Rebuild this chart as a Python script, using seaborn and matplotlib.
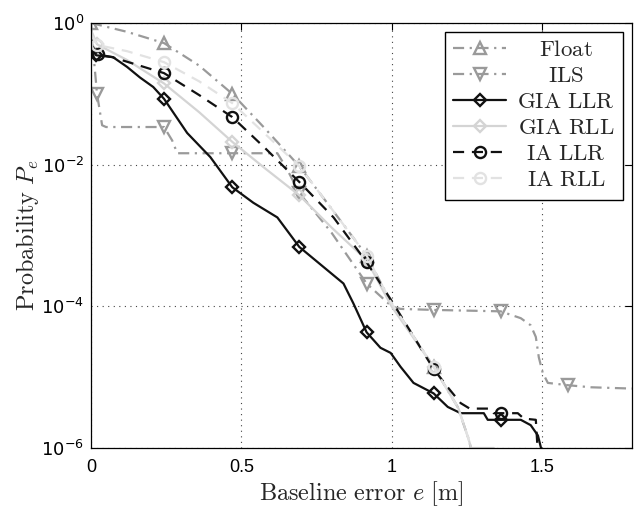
import numpy as np
import matplotlib
matplotlib.use("Agg")
import matplotlib.pyplot as plt
from matplotlib.ticker import NullLocator
import seaborn as sns

# ---------------- data ----------------
float_x = [0.0, 0.12, 0.243, 0.36, 0.47, 0.58, 0.693, 0.80, 0.917, 1.0, 1.14, 1.22, 1.255, 1.27]
float_y = [1.0, 0.75, 0.52, 0.25, 0.10, 0.032, 0.0095, 0.0024, 5.2e-4, 1.1e-4, 1.4e-5, 3.8e-6, 1.4e-6, 8e-7]
float_mk = [0.0, 0.243, 0.47, 0.693, 0.917, 1.14]

ils_x = [0.0, 0.01, 0.02, 0.037, 0.05, 0.243, 0.27, 0.287, 0.47, 0.62, 0.65, 0.693, 0.80, 0.917,
         1.0, 1.03, 1.14, 1.363, 1.43, 1.463, 1.48, 1.49, 1.503, 1.52, 1.587, 1.663, 1.8]
ils_y = [1.0, 0.3, 0.1, 0.036, 0.034, 0.034, 0.022, 0.0145, 0.0145, 0.0145, 0.009, 0.004, 0.0011, 2.1e-4,
         1.0e-4, 9.2e-5, 8.9e-5, 8.5e-5, 6.8e-5, 5.4e-5, 3.7e-5, 1.9e-5, 1.15e-5, 8.3e-6, 7.7e-6, 7.2e-6, 6.9e-6]
ils_mk = [0.02, 0.243, 0.47, 0.693, 0.917, 1.14, 1.363, 1.587]

gllr_x = [0.0, 0.008, 0.017, 0.073, 0.12, 0.163, 0.207, 0.243, 0.32, 0.397, 0.47, 0.54, 0.62, 0.693,
          0.84, 0.873, 0.917, 0.963, 0.997, 1.03, 1.073, 1.14, 1.187, 1.23, 1.307, 1.32, 1.363,
          1.43, 1.463, 1.487, 1.50]
gllr_y = [0.6, 0.4, 0.35, 0.33, 0.24, 0.17, 0.125, 0.085, 0.028, 0.0128, 0.0048, 0.0029, 0.0018, 6.9e-4,
          2.1e-4, 1.1e-4, 4.3e-5, 2.6e-5, 2.2e-5, 1.4e-5, 8.3e-6, 5.9e-6, 3.8e-6, 3.1e-6, 3.1e-6, 2.5e-6, 2.5e-6,
          2.5e-6, 2.1e-6, 1.5e-6, 9e-7]
gllr_mk = [0.017, 0.243, 0.47, 0.693, 0.917, 1.14, 1.363]

grll_x = [0.0, 0.02, 0.12, 0.243, 0.36, 0.47, 0.58, 0.693, 0.80, 0.917, 1.0, 1.14, 1.223, 1.257, 1.265, 1.34]
grll_y = [0.8, 0.5, 0.3, 0.14, 0.055, 0.021, 0.0088, 0.0037, 0.0013, 4.5e-4, 1.0e-4, 1.4e-5, 3.6e-6, 1.3e-6, 1.0e-6, 1.0e-6]
grll_mk = [0.02, 0.243, 0.47, 0.693, 0.917, 1.14]

illr_x = [0.0, 0.023, 0.07, 0.243, 0.36, 0.47, 0.58, 0.693, 0.807, 0.917, 1.0, 1.14, 1.187, 1.23,
          1.26, 1.33, 1.34, 1.363, 1.42, 1.44, 1.48, 1.49]
illr_y = [0.5, 0.36, 0.33, 0.196, 0.096, 0.047, 0.017, 0.0057, 0.0018, 4.2e-4, 1.2e-4, 1.3e-5, 7.2e-6, 4.3e-6,
          3.6e-6, 3.6e-6, 3.1e-6, 3.1e-6, 3.1e-6, 2.6e-6, 2.5e-6, 5e-7]
illr_mk = [0.023, 0.243, 0.47, 0.693, 0.917, 1.14, 1.363]

irll_x = [0.0, 0.02, 0.12, 0.243, 0.36, 0.47, 0.58, 0.693, 0.80, 0.917, 1.0, 1.14, 1.22, 1.255, 1.27]
irll_y = [0.7, 0.49, 0.4, 0.28, 0.15, 0.074, 0.027, 0.0095, 0.0024, 5.2e-4, 1.1e-4, 1.4e-5, 3.8e-6, 1.4e-6, 8e-7]
irll_mk = [0.02, 0.243, 0.47, 0.693, 0.917, 1.14]

labels = ["Float", "ILS", "GIA LLR", "GIA RLL", "IA LLR", "IA RLL"]
x_ticks = [0, 0.5, 1, 1.5]
x_tick_labels = ["0", "0.5", "1", "1.5"]
y_ticks = [1e0, 1e-2, 1e-4, 1e-6]
y_tick_labels = [r"$10^{0}$", r"$10^{-2}$", r"$10^{-4}$", r"$10^{-6}$"]

# ---------------- style ----------------
sns.set_theme(style="white")
plt.rcParams["font.family"] = ["Liberation Serif", "DejaVu Sans"]
plt.rcParams["mathtext.fontset"] = "cm"

fig = plt.figure(figsize=(6.35, 5.07), dpi=100)
ax = fig.add_axes([91 / 635, 59 / 507, 541 / 635, 425 / 507])
ax.set_yscale("log")

dashdot = (0, (5, 2.5, 1, 2.5))
dashed = (0, (5, 3.5))
series = [
    (float_x, float_y, float_mk, "#9a9a9a", dashdot, "^", 8.5),
    (ils_x, ils_y, ils_mk, "#9a9a9a", dashdot, "v", 8.5),
    (gllr_x, gllr_y, gllr_mk, "#111111", "-", "D", 6.5),
    (grll_x, grll_y, grll_mk, "#d4d4d4", "-", "D", 6.5),
    (illr_x, illr_y, illr_mk, "#111111", dashed, "o", 8),
    (irll_x, irll_y, irll_mk, "#e2e2e2", dashed, "o", 8),
]

for (xs, ys, mk, col, ls, m, ms), lab in zip(series, labels):
    idx = [int(np.argmin(np.abs(np.array(xs) - v))) for v in mk]
    sns.lineplot(x=xs, y=ys, ax=ax, sort=False, estimator=None, color=col,
                 linewidth=1.6, label=r"$\mathrm{" + lab.replace(" ", r"\ ") + "}$",
                 marker=m, markevery=idx, markersize=ms, markerfacecolor="none",
                 markeredgecolor=col, markeredgewidth=1.7)
    ln = ax.lines[-1]
    ln.set_linestyle(ls)
    ln.set_markerfacecolor("none")
    ln.set_markeredgecolor(col)

ax.set_xlim(0, 1.8)
ax.set_ylim(1e-6, 1)
ax.set_xticks(x_ticks)
ax.set_xticklabels(x_tick_labels, fontfamily="Liberation Sans", fontsize=13)
ax.set_yticks(y_ticks)
ax.set_yticklabels(y_tick_labels, fontsize=13)
for t in ax.get_yticklabels():
    t.set_math_fontfamily("dejavusans")
ax.yaxis.set_minor_locator(NullLocator())
ax.xaxis.set_minor_locator(NullLocator())

ax.tick_params(direction="in", length=5, width=0.8, top=True, right=True, colors="black")
ax.tick_params(axis="x", pad=8)
ax.tick_params(axis="y", pad=5)
for s in ax.spines.values():
    s.set_color("black")
    s.set_linewidth(0.9)
    s.set_visible(True)

ax.grid(True, which="major", linestyle=(0, (1, 4)), color="#444444", linewidth=0.8)

ax.set_xlabel(r"$\mathrm{Baseline\ error}\ e\ \mathrm{[m]}$", fontsize=17.5, labelpad=2)
ax.set_ylabel(r"$\mathrm{Probability}\ P_e$", fontsize=17.5, labelpad=0)

leg = ax.legend(loc="upper right", bbox_to_anchor=((623 - 91) / 541, (448 - 32) / 425),
                borderaxespad=0, fontsize=16.5, frameon=True, fancybox=False, handlelength=2.3,
                labelspacing=0.22, borderpad=0.35, handletextpad=0.5, markerfirst=True)
leg.get_frame().set_edgecolor("black")
leg.get_frame().set_linewidth(1.0)
leg.get_frame().set_alpha(1)

# centre the legend labels within their column (as in the reference)
renderer = fig.canvas.get_renderer()
texts = leg.get_texts()
widths = [t.get_window_extent(renderer).width for t in texts]
wmax = max(widths)
for t, w in zip(texts, widths):
    t.set_position(((wmax - w) / 2, 0))

fig.savefig("out.png", dpi=100, facecolor="white")
